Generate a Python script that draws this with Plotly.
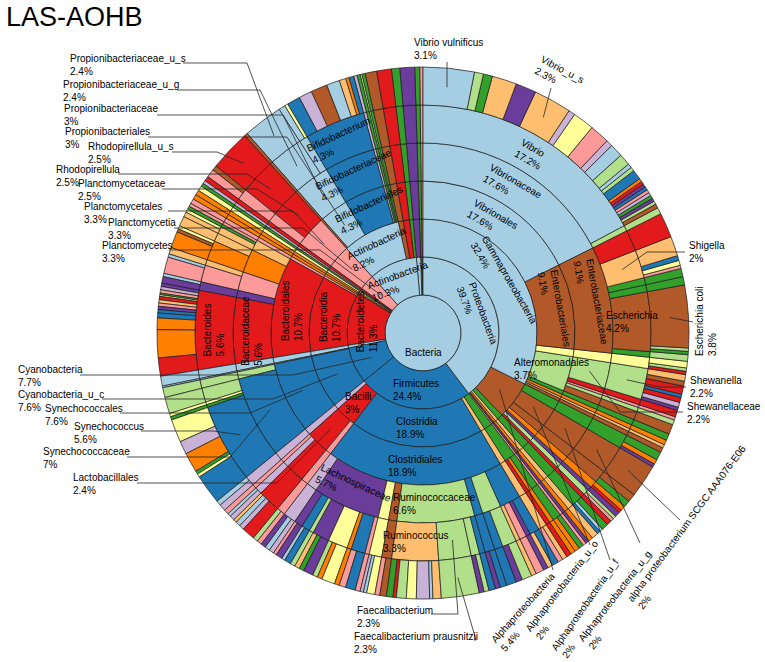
import math
import plotly.graph_objects as go

# ---------------- palette (RColorBrewer "Paired") ----------------
PALETTE = {"a": "#A6CEE3", "b": "#1F78B4", "c": "#B2DF8A", "d": "#33A02C",
           "e": "#FB9A99", "f": "#E31A1C", "g": "#FDBF6F", "h": "#FF7F00",
           "i": "#CAB2D6", "j": "#6A3D9A", "k": "#FFFF99", "l": "#B15928"}

ROOT = "Bacteria"
ROOT_COLOR = "a"
U = "other_c1|other_o1|other_f1|other_g1|other_s1"

# ---------------- data: leaves (phylum|class|order|family|genus|species, % abundance, colours per level) -------------
VIB = "Proteobacteria|Gammaproteobacteria|Vibrionales|Vibrionaceae|Vibrio|"
ENT = "Proteobacteria|Gammaproteobacteria|Enterobacteriales|Enterobacteriaceae|"
GAM = "Proteobacteria|Gammaproteobacteria|"
ALT = "Proteobacteria|Gammaproteobacteria|Alteromonadales|"
ALP = "Proteobacteria|Alphaproteobacteria|"
proteobacteria = [
    (VIB + "Vibrio vulnificus", 3.1, "aaaaaa"),
    (VIB + "other_s2", 0.55, "aaaaac"), (VIB + "other_s3", 0.55, "aaaaad"),
    (VIB + "other_s4", 1.5, "aaaaag"), (VIB + "other_s5", 1.25, "aaaaaj"),
    (VIB + "Vibrio_u_s", 2.3, "aaaaag"),
    (VIB + "other_s7", 0.4, "aaaaai"), (VIB + "other_s8", 1.3, "aaaaak"),
    (VIB + "other_s9", 1.2, "aaaaae"), (VIB + "other_s10", 0.4, "aaaaai"),
    (VIB + "other_s11", 0.8, "aaaaaa"), (VIB + "other_s12", 0.7, "aaaaac"),
    (VIB + "other_s13", 0.25, "aaaaaa"), (VIB + "other_s14", 0.25, "aaaaac"),
    (VIB + "other_s15", 0.6, "aaaaab"), (VIB + "other_s16", 0.2, "aaaaah"),
    (VIB + "other_s17", 0.2, "aaaaaf"), (VIB + "other_s18", 0.2, "aaaaaj"),
    (VIB + "other_s19", 0.2, "aaaaab"), (VIB + "other_s20", 0.2, "aaaaae"),
    (VIB + "other_s21", 0.2, "aaaaai"), (VIB + "other_s22", 0.2, "aaaaad"),
    (VIB + "other_s23", 0.2, "aaaaaj"), (VIB + "other_s24", 0.2, "aaaaac"),
    (VIB + "other_s25", 0.25, "aaaaal"),
    (GAM + "Vibrionales|Vibrionaceae|other_g2|other_s1", 0.4, "aaaacc"),
    (ENT + "other_g1|other_s1", 1.5, "aallff"),
    (ENT + "Shigella|other_s1", 1.2, "aallgg"), (ENT + "Shigella|other_s2", 0.3, "aallgb"),
    (ENT + "Shigella|other_s3", 0.3, "aallgk"), (ENT + "Shigella|other_s4", 0.2, "aallge"),
    (ENT + "other_g3|other_s1", 0.5, "aalldd"), (ENT + "other_g4|other_s1", 0.5, "aalldd"),
    (ENT + "Escherichia|Escherichia coli", 3.8, "aallll"),
    (ENT + "Escherichia|other_s2", 0.2, "aalllc"), (ENT + "Escherichia|other_s3", 0.2, "aallld"),
    (ENT + "other_g6|other_s1", 0.4, "aalldc"),
    (GAM + "other_o3|other_f1|other_g1|other_s1", 0.4, "aakkkk"),
    (GAM + "other_o3|other_f1|other_g1|other_s2", 0.2, "aakkkc"),
    (GAM + "other_o3|other_f1|other_g1|other_s3", 0.2, "aakkkf"),
    (ALT + "Shewanellaceae|Shewanella|other_s1", 0.4, "aacccg"),
    (ALT + "Shewanellaceae|Shewanella|other_s2", 0.3, "aacccl"),
    (ALT + "Shewanellaceae|Shewanella|other_s3", 0.5, "aacccf"),
    (ALT + "Shewanellaceae|Shewanella|other_s4", 0.2, "aacccb"),
    (ALT + "Shewanellaceae|Shewanella|other_s5", 0.3, "aacccf"),
    (ALT + "Shewanellaceae|Shewanella|other_s6", 0.3, "aaccci"),
    (ALT + "Shewanellaceae|Shewanella|other_s7", 0.2, "aacccj"),
    (ALT + "other_f2|other_g1|other_s1", 0.4, "aacfff"),
    (ALT + "other_f3|other_g1|other_s1", 0.2, "aaceee"),
    (ALT + "other_f4|other_g1|other_s1", 0.3, "aacccc"),
    (ALT + "other_f5|other_g1|other_s1", 0.6, "aaclll"),
    (GAM + "other_o5|other_f1|other_g1|other_s1", 0.4, "aadddd"),
    (GAM + "other_o6|other_f1|other_g1|other_s1", 0.3, "aahhhh"),
    (GAM + "other_o7|other_f1|other_g1|other_s1", 0.2, "aagggg"),
    (GAM + "other_o8|other_f1|other_g1|other_s1", 0.3, "aallll"),
    (ALP + "other_o1|other_f1|other_g1|other_s1", 0.5, "aldddd"),
    (ALP + "other_o1|other_f1|other_g1|other_s2", 0.3, "aldddh"),
    (ALP + "other_o1|other_f1|other_g1|other_s3", 0.2, "aldddj"),
    (ALP + "Alphaproteobacteria_u_o|Alphaproteobacteria_u_f|Alphaproteobacteria_u_g|"
           "alpha proteobacterium SCGC AAA076-E06", 2.0, "alllll"),
    (ALP + "other_o3|other_f1|other_g1|other_s1", 0.5, "alllll"),
    (ALP + "other_o3|other_f1|other_g1|other_s2", 0.4, "alllld"),
    (ALP + "other_o4|other_f1|other_g1|other_s1", 0.3, "alhhhh"),
    (ALP + "other_o4|other_f1|other_g1|other_s2", 0.2, "alhhhf"),
    (ALP + "other_o5|other_f1|other_g1|other_s1", 0.3, "aljjjj"),
    (ALP + "other_o6|other_f1|other_g1|other_s1", 0.2, "alcccc"),
    (ALP + "other_o6|other_f1|other_g1|other_s2", 0.2, "alccce"),
    (ALP + "other_o7|other_f1|other_g1|other_s1", 0.3, "alffff"),
    ("Proteobacteria|other_c3|other_o1|other_f1|other_g1|other_s1", 0.4, "addddd"),
    ("Proteobacteria|other_c3|other_o1|other_f1|other_g1|other_s2", 0.2, "adddda"),
    ("Proteobacteria|other_c3|other_o1|other_f1|other_g1|other_s3", 0.2, "addddb"),
    ("Proteobacteria|other_c4|other_o1|other_f1|other_g1|other_s1", 0.4, "aggggg"),
    ("Proteobacteria|other_c5|other_o1|other_f1|other_g1|other_s1", 0.3, "ahhhhh"),
    ("Proteobacteria|other_c6|other_o1|other_f1|other_g1|other_s1", 0.2, "ajjjjj"),
    ("Proteobacteria|other_c7|other_o1|other_f1|other_g1|other_s1", 0.2, "aeeeee"),
]

CLO = "Firmicutes|Clostridia|Clostridiales|"
RUM = CLO + "Ruminococcaceae|"
LAC = CLO + "Lachnospiraceae|"
BAC = "Firmicutes|Bacilli|"
firmicutes = [
    ("Firmicutes|other_c1|other_o1|other_f1|other_g1|other_s1", 0.3, "bddddd"),
    ("Firmicutes|other_c1|other_o1|other_f1|other_g1|other_s2", 0.3, "bddddh"),
    ("Firmicutes|other_c1|other_o1|other_f2|other_g1|other_s1", 0.3, "bddhhh"),
    ("Firmicutes|other_c1|other_o1|other_f3|other_g1|other_s1", 0.3, "bddfff"),
    ("Firmicutes|other_c2|other_o1|other_f1|other_g1|other_s1", 0.3, "bggggg"),
    ("Firmicutes|other_c2|other_o1|other_f1|other_g1|other_s2", 0.3, "bgggge"),
    (CLO + "other_f1|other_g1|other_s1", 0.4, "bbbbbb"),
    (CLO + "other_f1|other_g1|other_s2", 0.3, "bbbbbg"),
    (CLO + "other_f1|other_g2|other_s1", 0.3, "bbbbjj"),
    (CLO + "other_f1|other_g3|other_s1", 0.5, "bbbbee"),
    (CLO + "other_f1|other_g4|other_s1", 0.3, "bbbbgg"),
    (CLO + "other_f2|other_g1|other_s1", 0.6, "bbbccc"),
    (CLO + "other_f2|other_g1|other_s2", 0.4, "bbbccj"),
    (CLO + "other_f2|other_g2|other_s1", 0.6, "bbbcbb"),
    (CLO + "other_f3|other_g1|other_s1", 0.4, "bbbbbb"),
    (CLO + "other_f3|other_g1|other_s2", 0.3, "bbbbbj"),
    (RUM + "other_g1|other_s1", 0.4, "bbbcbb"),
    (RUM + "other_g2|other_s1", 0.3, "bbbccc"),
    (RUM + "other_g2|other_s2", 0.3, "bbbccj"),
    (RUM + "Faecalibacterium|Faecalibacterium prausnitzii", 2.3, "bbbccc"),
    (RUM + "Ruminococcus|other_s1", 0.5, "bbbcgg"),
    (RUM + "Ruminococcus|other_s2", 0.2, "bbbcga"),
    (RUM + "Ruminococcus|other_s3", 0.8, "bbbcgi"),
    (RUM + "Ruminococcus|other_s4", 0.6, "bbbcgk"),
    (RUM + "Ruminococcus|other_s5", 0.6, "bbbcgc"),
    (RUM + "Ruminococcus|other_s6", 0.2, "bbbcgf"),
    (RUM + "Ruminococcus|other_s7", 0.4, "bbbcgd"),
    (CLO + "other_f5|other_g1|other_s1", 0.4, "bbblll"),
    (CLO + "other_f5|other_g1|other_s2", 0.3, "bbblle"),
    (CLO + "other_f6|other_g1|other_s1", 0.5, "bbbkkk"),
    (CLO + "other_f6|other_g1|other_s2", 0.2, "bbbkka"),
    (CLO + "other_f6|other_g1|other_s3", 0.2, "bbbkki"),
    (LAC + "other_g1|other_s1", 0.3, "bbbjee"),
    (LAC + "other_g2|other_s1", 0.6, "bbbjbb"),
    (LAC + "other_g2|other_s2", 0.4, "bbbjbe"),
    (LAC + "other_g3|other_s1", 0.3, "bbbjhh"),
    (LAC + "other_g4|other_s1", 0.8, "bbbjkk"),
    (LAC + "other_g4|other_s2", 0.3, "bbbjkh"),
    (LAC + "other_g4|other_s3", 0.3, "bbbjkc"),
    (LAC + "other_g5|other_s1", 0.6, "bbbjjj"),
    (LAC + "other_g5|other_s2", 0.3, "bbbjjd"),
    (LAC + "other_g5|other_s3", 0.3, "bbbjjg"),
    (LAC + "other_g6|other_s1", 0.3, "bbbjcc"),
    (LAC + "other_g7|other_s1", 0.4, "bbbjbb"),
    (LAC + "other_g7|other_s2", 0.2, "bbbjba"),
    (LAC + "other_g8|other_s1", 0.4, "bbbjjj"),
    (LAC + "other_g8|other_s2", 0.2, "bbbjje"),
    (CLO + "other_f8|other_g1|other_s1", 0.3, "bbbiii"),
    (CLO + "other_f8|other_g1|other_s2", 0.3, "bbbiia"),
    (CLO + "other_f8|other_g1|other_s3", 0.3, "bbbiij"),
    (BAC + "other_o1|other_f1|other_g1|other_s1", 0.3, "bfeeee"),
    (BAC + "other_o1|other_f1|other_g1|other_s2", 0.3, "bfeeec"),
    (BAC + "Lactobacillales|other_f1|other_g1|other_s1", 0.8, "bfffff"),
    (BAC + "Lactobacillales|other_f1|other_g1|other_s2", 0.3, "bffffi"),
    (BAC + "Lactobacillales|other_f1|other_g1|other_s3", 0.3, "bffffa"),
    (BAC + "Lactobacillales|other_f1|other_g1|other_s4", 0.2, "bffffg"),
    (BAC + "Lactobacillales|other_f2|other_g1|other_s1", 0.3, "bffiii"),
    (BAC + "Lactobacillales|other_f2|other_g1|other_s2", 0.2, "bffiia"),
    (BAC + "Lactobacillales|other_f3|other_g1|other_s1", 0.3, "bffeee"),
    ("Firmicutes|other_c5|other_o1|other_f1|other_g1|other_s1", 0.4, "biiiii"),
    ("Firmicutes|other_c5|other_o1|other_f1|other_g1|other_s2", 0.3, "biiiia"),
]

SYN = "Cyanobacteria|Cyanobacteria_u_c|Synechococcales|"
cyanobacteria = [
    (SYN + "Synechococcaceae|Synechococcus|other_s1", 1.8, "bbbbbb"),
    (SYN + "Synechococcaceae|Synechococcus|other_s2", 0.2, "bbbbbk"),
    (SYN + "Synechococcaceae|Synechococcus|other_s3", 0.2, "bbbbbd"),
    (SYN + "Synechococcaceae|Synechococcus|other_s4", 1.2, "bbbbbh"),
    (SYN + "Synechococcaceae|Synechococcus|other_s5", 0.8, "bbbbbi"),
    (SYN + "Synechococcaceae|Synechococcus|other_s6", 1.4, "bbbbbk"),
    (SYN + "Synechococcaceae|other_g2|other_s1", 0.2, "bbbbdd"),
    (SYN + "Synechococcaceae|other_g3|other_s1", 0.2, "bbbbkk"),
    (SYN + "Synechococcaceae|other_g4|other_s1", 1.0, "bbbbcc"),
    (SYN + "other_f2|other_g1|other_s1", 0.6, "bbbccc"),
    ("Cyanobacteria|other_c2|other_o1|other_f1|other_g1|other_s1", 0.1, "baaaaa"),
]

BDA = "Bacteroidetes|Bacteroidia|Bacteroidales|"
BDS = BDA + "Bacteroidaceae|Bacteroides|"
bacteroidetes = [
    (BDS + "other_s1", 1.1, "ffffff"), (BDS + "other_s2", 1.7, "fffffh"),
    (BDS + "other_s3", 0.7, "fffffh"), (BDS + "other_s4", 0.3, "fffffb"),
    (BDS + "other_s5", 0.2, "fffffb"), (BDS + "other_s6", 0.2, "fffffj"),
    (BDS + "other_s7", 0.2, "fffffe"), (BDS + "other_s8", 0.2, "fffffg"),
    (BDS + "other_s9", 0.2, "ffffff"), (BDS + "other_s10", 0.1, "fffffk"),
    (BDS + "other_s11", 0.1, "fffffd"), (BDS + "other_s12", 0.2, "fffffe"),
    (BDS + "other_s13", 0.2, "fffffi"), (BDS + "other_s14", 0.2, "fffffj"),
    (BDA + "other_f2|other_g1|other_s1", 0.4, "fffjjj"),
    (BDA + "other_f2|other_g1|other_s2", 0.2, "fffjja"),
    (BDA + "other_f3|other_g1|other_s1", 1.0, "fffeee"),
    (BDA + "other_f3|other_g1|other_s2", 0.2, "fffeea"),
    (BDA + "other_f3|other_g2|other_s1", 0.4, "fffegg"),
    (BDA + "other_f4|other_g1|other_s1", 1.0, "fffhhh"),
    (BDA + "other_f4|other_g1|other_s2", 0.2, "fffhhl"),
    (BDA + "other_f4|other_g1|other_s3", 0.2, "fffhhk"),
    (BDA + "other_f4|other_g2|other_s1", 0.6, "fffhgg"),
    (BDA + "other_f5|other_g1|other_s1", 0.3, "fffggg"),
    (BDA + "other_f5|other_g1|other_s2", 0.2, "fffggk"),
    (BDA + "other_f5|other_g2|other_s1", 0.2, "fffgdd"),
    (BDA + "other_f5|other_g3|other_s1", 0.2, "fffgee"),
    ("Bacteroidetes|other_c2|other_o1|other_f1|other_g1|other_s1", 0.3, "feeeee"),
    ("Bacteroidetes|other_c3|other_o1|other_f1|other_g1|other_s1", 0.3, "fhhhhh"),
]

PLA = "Planctomycetes|Planctomycetia|Planctomycetales|"
planctomycetes = [
    (PLA + "other_f1|other_g1|other_s1", 0.5, "eeeeee"),
    (PLA + "other_f1|other_g1|other_s2", 0.3, "eeeeel"),
    (PLA + "Planctomycetaceae|Rhodopirellula|Rhodopirellula_u_s", 2.5, "eeefff"),
]

ACT = "Actinobacteria|Actinobacteria|"
BIF = ACT + "Bifidobacteriales|Bifidobacteriaceae|Bifidobacterium|"
actinobacteria = [
    (ACT + "other_o1|other_f1|other_g1|other_s1", 0.2, "aallll"),
    (ACT + "Propionibacteriales|Propionibacteriaceae|Propionibacteriaceae_u_g|Propionibacteriaceae_u_s",
     2.4, "aaaaaa"),
    (ACT + "Propionibacteriales|Propionibacteriaceae|other_g2|other_s1", 0.4, "aaaaaa"),
    (ACT + "Propionibacteriales|Propionibacteriaceae|other_g2|other_s2", 0.2, "aaaaak"),
    (BIF + "other_s1", 0.8, "aabbbb"), (BIF + "other_s2", 0.8, "aabbbi"),
    (BIF + "other_s3", 1.0, "aabbbl"), (BIF + "other_s4", 0.8, "aabbba"),
    (BIF + "other_s5", 0.4, "aabbbg"), (BIF + "other_s6", 0.2, "aabbbh"),
    (BIF + "other_s7", 0.3, "aabbbb"),
    (ACT + "other_o4|other_f1|other_g1|other_s1", 0.2, "aaiiii"),
    (ACT + "other_o5|other_f1|other_g1|other_s1", 0.2, "aadddd"),
    (ACT + "other_o6|other_f1|other_g1|other_s1", 0.1, "aakkkk"),
    (ACT + "other_o7|other_f1|other_g1|other_s1", 0.2, "aadddd"),
    ("Actinobacteria|other_c2|other_o1|other_f1|other_g1|other_s1", 0.7, "alllll"),
    ("Actinobacteria|other_c3|other_o1|other_f1|other_g1|other_s1", 0.9, "afffff"),
    ("Actinobacteria|other_c4|other_o1|other_f1|other_g1|other_s1", 0.5, "addddd"),
]

minor_phyla_a = [("other_p1|" + U, 0.6, "aaaaaa")]
minor_phyla_b = [("other_p2|" + U, 0.3, "hhhhhh"), ("other_p3|" + U, 0.3, "kkkkkk"),
                 ("other_p4|" + U, 0.2, "dddddd"), ("other_p5|" + U, 0.2, "iiiiii"),
                 ("other_p6|" + U, 0.3, "ffffff")]
minor_phyla_c = [("other_p7|" + U, 0.9, "ajjjjj"), ("other_p8|" + U, 0.3, "dddddd"),
                 ("other_p9|" + U, 0.2, "eeeeee")]

# clockwise order, starting at 12 o'clock
leaf_groups = [proteobacteria, firmicutes, cyanobacteria, minor_phyla_a, bacteroidetes,
               minor_phyla_b, planctomycetes, actinobacteria, minor_phyla_c]

# taxa written inside their sector: lineage path, text angle
inside_labels = [
    ("", 0),
    ("Proteobacteria", 70),
    ("Proteobacteria|Gammaproteobacteria", 60),
    ("Proteobacteria|Gammaproteobacteria|Vibrionales", 30),
    ("Proteobacteria|Gammaproteobacteria|Vibrionales|Vibrionaceae", 30),
    ("Proteobacteria|Gammaproteobacteria|Vibrionales|Vibrionaceae|Vibrio", 30),
    ("Proteobacteria|Gammaproteobacteria|Enterobacteriales", 80),
    ("Proteobacteria|Gammaproteobacteria|Enterobacteriales|Enterobacteriaceae", 80),
    ("Proteobacteria|Gammaproteobacteria|Enterobacteriales|Enterobacteriaceae|Escherichia", 0),
    ("Proteobacteria|Gammaproteobacteria|Alteromonadales", 0),
    ("Firmicutes", 0),
    ("Firmicutes|Clostridia", 0),
    ("Firmicutes|Clostridia|Clostridiales", 0),
    ("Firmicutes|Clostridia|Clostridiales|Ruminococcaceae", 0),
    ("Firmicutes|Clostridia|Clostridiales|Ruminococcaceae|Ruminococcus", 0),
    ("Firmicutes|Clostridia|Clostridiales|Lachnospiraceae", 25),
    ("Firmicutes|Bacilli", 0),
    ("Bacteroidetes", -90),
    ("Bacteroidetes|Bacteroidia", -90),
    ("Bacteroidetes|Bacteroidia|Bacteroidales", -90),
    ("Bacteroidetes|Bacteroidia|Bacteroidales|Bacteroidaceae", -90),
    ("Bacteroidetes|Bacteroidia|Bacteroidales|Bacteroidaceae|Bacteroides", -90),
    ("Actinobacteria", -20),
    ("Actinobacteria|Actinobacteria", -25),
    ("Actinobacteria|Actinobacteria|Bifidobacteriales", -25),
    ("Actinobacteria|Actinobacteria|Bifidobacteriales|Bifidobacteriaceae", -25),
    ("Actinobacteria|Actinobacteria|Bifidobacteriales|Bifidobacteriaceae|Bifidobacterium", -25),
]
ROOT_LABEL_DY = 19  # px the root label sits below the centre

# outside call-outs: name, label x/y (px), text angle, anchor, leader start (px), leader elbow (px)
callouts = [
    ("Propionibacteriaceae_u_s", 68, 64.5, 0, "left", (183, 63), (247, 63)),
    ("Propionibacteriaceae_u_g", 61, 91.5, 0, "left", (177, 90), (260, 90)),
    ("Propionibacteriaceae", 62, 114.5, 0, "left", (157, 115), (283, 115)),
    ("Propionibacteriales", 63, 137.5, 0, "left", (148, 137), (287, 137)),
    ("Rhodopirellula_u_s", 86, 152.5, 0, "left", (172, 152), (217, 152)),
    ("Rhodopirellula", 54, 175.5, 0, "left", (118, 174), (247, 174)),
    ("Planctomycetaceae", 76, 189.5, 0, "left", (162, 189), (257, 189)),
    ("Planctomycetales", 82, 212.5, 0, "left", (168, 211), (293, 211)),
    ("Planctomycetia", 106, 228.5, 0, "left", (174, 228), (303, 228)),
    ("Planctomycetes", 100, 252.5, 0, "left", (169, 250), (320, 250)),
    ("Cyanobacteria", 16, 375.5, 0, "left", (80, 375), (293, 375)),
    ("Cyanobacteria_u_c", 16, 400.5, 0, "left", (102, 399), (273, 399)),
    ("Synechococcales", 43, 414.5, 0, "left", (120, 413), (250, 413)),
    ("Synechococcus", 72, 432.5, 0, "left", (141, 431), (213, 431)),
    ("Synechococcaceae", 41, 457.5, 0, "left", (127, 457), (230, 457)),
    ("Lactobacillales", 71, 483.5, 0, "left", (137, 483), (277, 483)),
    ("Faecalibacterium", 355, 616.5, 0, "left", (431, 614), (458, 614)),
    ("Faecalibacterium prausnitzii", 352, 642.5, 0, "left", (474, 640), (476, 640)),
    ("Shigella", 687, 252.5, 0, "left", (685, 252), (647, 252)),
    ("Shewanella", 688, 387.5, 0, "left", (686, 387), (660, 387)),
    ("Shewanellaceae", 685, 412.5, 0, "left", (683, 412), (620, 412)),
    ("Vibrio vulnificus", 412, 49.5, 0, "left", (447, 62), (447, 62)),
    ("Vibrio_u_s", 559, 75, 28, "center", (551, 88), (551, 88)),
    ("Escherichia coli", 706, 322, -90, "center", (693, 322), (693, 322)),
    ("alpha proteobacterium SCGC AAA076-E06", 692, 527, -53.5, "center", (680, 520), (680, 520)),
    ("Alphaproteobacteria_u_g", 620, 600, -52, "center", (640, 543), (640, 543)),
    ("Alphaproteobacteria_u_f", 590, 609, -55, "center", (610, 560), (610, 560)),
    ("Alphaproteobacteria_u_o", 567, 590, -52.5, "center", (590, 545), (590, 545)),
    ("Alphaproteobacteria", 528, 612, -48, "center", (553, 570), (553, 570)),
]

TITLE = "LAS-AOHB"

# ---------------- layout geometry ----------------
FIG_W, FIG_H = 765, 662
M_L, M_R, M_T, M_B = 157, 76, 67, 63
PW, PH = FIG_W - M_L - M_R, FIG_H - M_T - M_B
CX, CY = M_L + PW / 2, M_T + PH / 2
RADIUS = min(PW, PH) / 2
LEVELS = 7
FONT = "Liberation Sans, Arial, sans-serif"


def px2paper(x, y):
    return (x - M_L) / PW, 1 - (y - M_T) / PH


# ---------------- build hierarchy ----------------
nodes = {ROOT: dict(label=ROOT, parent="", value=0, color=PALETTE[ROOT_COLOR], depth=0)}
order = [ROOT]
children = {ROOT: []}
for group in leaf_groups:
    for path, val, cols in group:
        parts = path.split("|")
        v = int(round(val * 100))
        nodes[ROOT]["value"] += v
        pid = ROOT
        for d, name in enumerate(parts):
            nid = pid + "/" + name
            if nid not in nodes:
                nodes[nid] = dict(label=name, parent=pid, value=0,
                                  color=PALETTE[cols[d]], depth=d + 1)
                children[nid] = []
                children[pid].append(nid)
                order.append(nid)
            nodes[nid]["value"] += v
            pid = nid

total = nodes[ROOT]["value"]
start = {ROOT: 0}


def assign(nid):
    s = start[nid]
    for c in children[nid]:
        start[c] = s
        s += nodes[c]["value"]
        assign(c)


assign(ROOT)


def pct_text(nid):
    p = round(nodes[nid]["value"] / total * 100, 1)
    return ("%g" % p) + "%"


def find(label):
    for nid in order:
        if nodes[nid]["label"] == label:
            return nid
    raise KeyError(label)


def path_id(path):
    return ROOT if path == "" else ROOT + "/" + path.replace("|", "/")


def centroid_px(nid):
    n = nodes[nid]
    theta = 2 * math.pi * (start[nid] + n["value"] / 2) / total
    r = (n["depth"] + 0.5) * RADIUS / LEVELS
    return CX + r * math.sin(theta), CY - r * math.cos(theta)


# plotly lays siblings out counter-clockwise: reverse to get clockwise order
plot_order = [ROOT] + order[1:][::-1]

fig = go.Figure(go.Sunburst(
    ids=plot_order,
    labels=[nodes[n]["label"] for n in plot_order],
    parents=[nodes[n]["parent"] for n in plot_order],
    values=[nodes[n]["value"] for n in plot_order],
    textinfo="none",
    branchvalues="total",
    sort=False,
    rotation=90,
    marker=dict(colors=[nodes[n]["color"] for n in plot_order],
                line=dict(color="#1a1a1a", width=0.7)),
    leaf=dict(opacity=1),
    hoverinfo="label+percent root",
))

shapes, annotations = [], []
for name, lx, ly, ang, anchor, s_pt, e_pt in callouts:
    nid = find(name)
    tx, ty = centroid_px(nid)
    pts = [s_pt, e_pt, (tx, ty)]
    path = ""
    for i, (x, y) in enumerate(pts):
        px, py = px2paper(x, y)
        path += ("M" if i == 0 else " L") + " %.5f %.5f" % (px, py)
    shapes.append(dict(type="path", path=path, xref="paper", yref="paper",
                       line=dict(color="#262626", width=0.8), layer="above"))
    ax, ay = px2paper(lx, ly)
    annotations.append(dict(x=ax, y=ay, xref="paper", yref="paper", showarrow=False,
                            text=name + "<br>" + pct_text(nid), align="left",
                            xanchor=anchor, yanchor="middle", textangle=ang,
                            font=dict(family=FONT, size=10, color="black")))

for path, ang in inside_labels:
    nid = path_id(path)
    if nid == ROOT:
        x, y = CX, CY + ROOT_LABEL_DY
        txt = nodes[nid]["label"]
    else:
        x, y = centroid_px(nid)
        txt = nodes[nid]["label"] + "<br>" + pct_text(nid)
    ax, ay = px2paper(x, y)
    annotations.append(dict(x=ax, y=ay, xref="paper", yref="paper", showarrow=False,
                            text=txt, align="left", xanchor="center", yanchor="middle",
                            textangle=ang, font=dict(family=FONT, size=10, color="black")))

tx, ty = px2paper(4, 0)
annotations.append(dict(x=tx, y=ty, xref="paper", yref="paper", showarrow=False,
                        text=TITLE, xanchor="left", yanchor="top",
                        font=dict(family=FONT, size=27, color="black")))

fig.update_layout(width=FIG_W, height=FIG_H, margin=dict(l=M_L, r=M_R, t=M_T, b=M_B),
                  paper_bgcolor="white", plot_bgcolor="white", showlegend=False,
                  shapes=shapes, annotations=annotations)
fig.write_html("out.html")
